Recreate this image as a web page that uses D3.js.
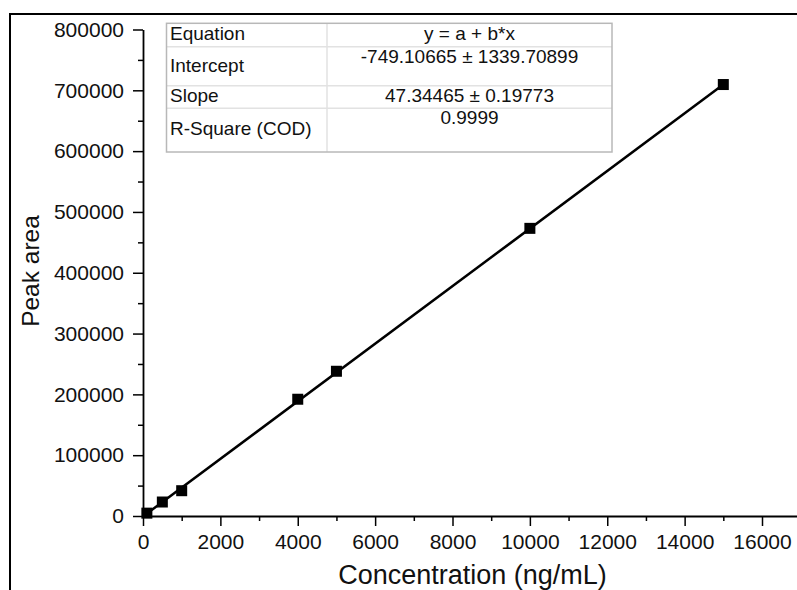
<!DOCTYPE html>
<html>
<head>
<meta charset="utf-8">
<script src="https://cdn.jsdelivr.net/npm/d3@7"></script>
<style>
  html, body { margin: 0; padding: 0; background: #fff; }
  svg text { font-family: "Liberation Sans", Arial, Helvetica, sans-serif; fill: #111; }
</style>
</head>
<body>
<svg id="chart" width="797" height="590"></svg>
<script>
// ---- data ----
const concentrations = [100, 500, 1000, 4000, 5000, 10000, 15000];
const peakAreas      = [4700, 23000, 41600, 192000, 238000, 473000, 709500];
const fitIntercept = -749.10665;
const fitSlope = 47.34465;
const xTickValues = [0, 2000, 4000, 6000, 8000, 10000, 12000, 14000, 16000];
const xMinorValues = [1000, 3000, 5000, 7000, 9000, 11000, 13000, 15000];
const yTickValues = [0, 100000, 200000, 300000, 400000, 500000, 600000, 700000, 800000];
const yMinorValues = [50000, 150000, 250000, 350000, 450000, 550000, 650000, 750000];
const tableLabels = ["Equation", "Intercept", "Slope", "R-Square (COD)"];
const tableValues = ["y = a + b*x", "-749.10665 \u00b1 1339.70899", "47.34465 \u00b1 0.19773", "0.9999"];
const xTitle = "Concentration (ng/mL)";
const yTitle = "Peak area";

// ---- layout ----
const svg = d3.select("#chart");
const x = d3.scaleLinear().domain([0, 17000]).range([143, 143 + 17000 * (619 / 16000)]);
const y = d3.scaleLinear().domain([0, 800000]).range([516, 29.5]);

svg.append("rect").attr("width", 797).attr("height", 590).attr("fill", "#fff");

// outer frame
svg.append("rect")
  .attr("x", 10).attr("y", 14).attr("width", 820).attr("height", 620)
  .attr("fill", "none").attr("stroke", "#000").attr("stroke-width", 2);

// minor ticks
svg.append("g").attr("transform", "translate(0,516)")
  .call(d3.axisBottom(x).tickValues(xMinorValues).tickSize(5).tickSizeOuter(0).tickFormat(""))
  .call(g => g.select(".domain").remove())
  .call(g => g.selectAll("line").attr("stroke", "#000").attr("stroke-width", 1.5));
svg.append("g").attr("transform", "translate(143,0)")
  .call(d3.axisLeft(y).tickValues(yMinorValues).tickSize(5).tickSizeOuter(0).tickFormat(""))
  .call(g => g.select(".domain").remove())
  .call(g => g.selectAll("line").attr("stroke", "#000").attr("stroke-width", 1.5));

// major axes
const gx = svg.append("g").attr("transform", "translate(0,516)")
  .call(d3.axisBottom(x).tickValues(xTickValues).tickSize(10).tickSizeOuter(0).tickPadding(8.5).tickFormat(d3.format("d")));
const gy = svg.append("g").attr("transform", "translate(143,0)")
  .call(d3.axisLeft(y).tickValues(yTickValues).tickSize(10).tickSizeOuter(0).tickPadding(9).tickFormat(d3.format("d")));
[gx, gy].forEach(g => {
  g.select(".domain").attr("stroke", "#000").attr("stroke-width", 1.8);
  g.selectAll(".tick line").attr("stroke", "#000").attr("stroke-width", 1.5);
  g.selectAll(".tick text").attr("font-size", 21).attr("fill", "#111")
    .style("font-family", '"Liberation Sans", Arial, sans-serif');
});

// axis titles
svg.append("text").attr("x", 472.5).attr("y", 584).attr("text-anchor", "middle")
  .attr("font-size", 27).text(xTitle);
svg.append("text").attr("transform", "translate(39,271) rotate(-90)").attr("text-anchor", "middle")
  .attr("font-size", 24.5).text(yTitle);

// fit line
const xMin = d3.min(concentrations), xMax = d3.max(concentrations);
svg.append("line")
  .attr("x1", x(xMin)).attr("y1", y(fitIntercept + fitSlope * xMin))
  .attr("x2", x(xMax)).attr("y2", y(fitIntercept + fitSlope * xMax))
  .attr("stroke", "#000").attr("stroke-width", 2.5);

// markers
const ms = 11;
svg.append("g").selectAll("rect")
  .data(concentrations.map((c, i) => [c, peakAreas[i]]))
  .join("rect")
  .attr("x", d => x(d[0]) - ms / 2).attr("y", d => y(d[1]) - ms / 2)
  .attr("width", ms).attr("height", ms).attr("fill", "#000");

// stats table
const tL = 166.5, tR = 612, tC = 327, rowEdges = [23.3, 46.7, 85.7, 108.3, 152];
const tbl = svg.append("g");
tbl.append("rect").attr("x", tL).attr("y", rowEdges[0]).attr("width", tR - tL)
  .attr("height", rowEdges[4] - rowEdges[0]).attr("fill", "#fff");
rowEdges.slice(1, 4).forEach(yy => {
  tbl.append("line").attr("x1", tL).attr("x2", tR).attr("y1", yy).attr("y2", yy)
    .attr("stroke", "#e2e2e2").attr("stroke-width", 1.5);
});
tbl.append("line").attr("x1", tC).attr("x2", tC).attr("y1", rowEdges[0]).attr("y2", rowEdges[4])
  .attr("stroke", "#e2e2e2").attr("stroke-width", 1.5);
tbl.append("rect").attr("x", tL).attr("y", rowEdges[0]).attr("width", tR - tL)
  .attr("height", rowEdges[4] - rowEdges[0]).attr("fill", "none")
  .attr("stroke", "#b8b8b8").attr("stroke-width", 1.5);

const labelBaselines = [40, 72, 101.5, 135];
const valueBaselines = [39.5, 63, 101.5, 124];
tbl.selectAll("text.lab").data(tableLabels).join("text").attr("class", "lab")
  .attr("x", 170).attr("y", (d, i) => labelBaselines[i]).attr("font-size", 19).text(d => d);
tbl.selectAll("text.val").data(tableValues).join("text").attr("class", "val")
  .attr("x", (tC + tR) / 2).attr("y", (d, i) => valueBaselines[i]).attr("text-anchor", "middle")
  .attr("font-size", 19).text(d => d);
</script>
</body>
</html>
